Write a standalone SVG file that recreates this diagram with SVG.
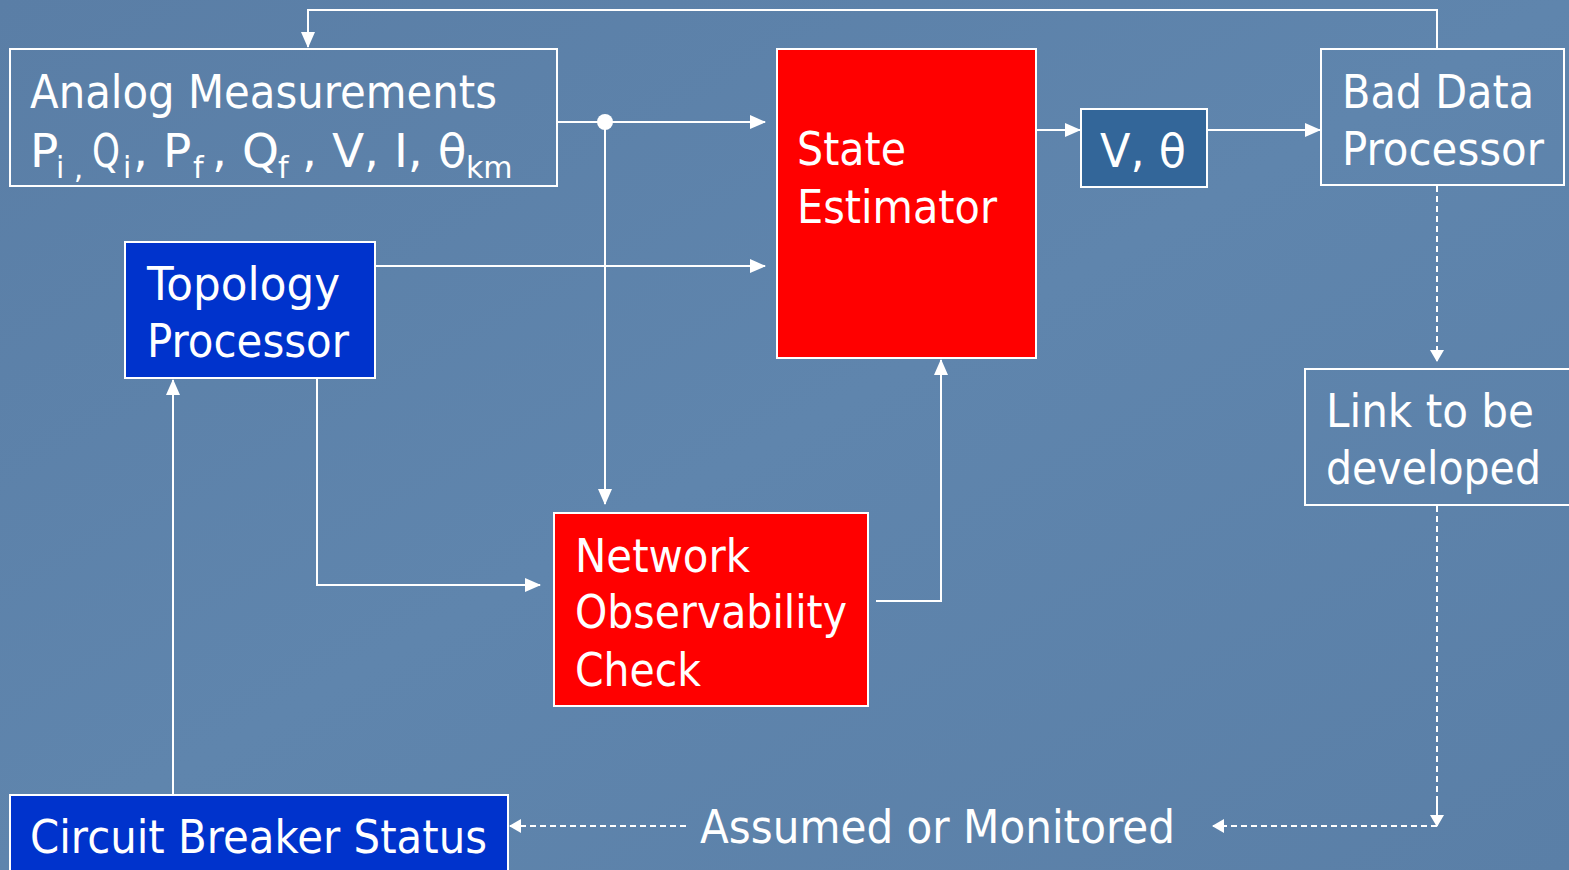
<svg xmlns="http://www.w3.org/2000/svg" width="1569" height="870" viewBox="0 0 1569 870">
<defs>
<linearGradient id="bg" x1="0" y1="0" x2="1" y2="1">
<stop offset="0" stop-color="#5a7ea6"/>
<stop offset="0.5" stop-color="#5f85ad"/>
<stop offset="1" stop-color="#5a7fa7"/>
</linearGradient>
<marker id="ah" markerWidth="16" markerHeight="14" refX="15" refY="7" orient="auto" markerUnits="userSpaceOnUse">
<path d="M0,0 L16,7 L0,14 Z" fill="#fff"/>
</marker>
<marker id="ahs" markerWidth="12" markerHeight="14" refX="11" refY="7" orient="auto" markerUnits="userSpaceOnUse">
<path d="M0,0 L12,7 L0,14 Z" fill="#fff"/>
</marker>
</defs>
<style>
.t{font-family:"DejaVu Sans","Liberation Sans",sans-serif;fill:#fff;font-size:47px}
.box{stroke:#fff;stroke-width:2}
.c{stroke:#fff;stroke-width:2;fill:none}
.d{stroke:#fff;stroke-width:2;fill:none;stroke-dasharray:6,4}
</style>
<rect width="1569" height="870" fill="url(#bg)"/>

<g id="connectors">
<polyline class="c" points="1437,49 1437,10 308,10 308,47" marker-end="url(#ah)"/>
<line class="c" x1="557" y1="122" x2="765" y2="122" marker-end="url(#ah)"/>
<circle cx="605" cy="122" r="8" fill="#fff"/>
<line class="c" x1="605" y1="122" x2="605" y2="504" marker-end="url(#ah)"/>
<line class="c" x1="375" y1="266" x2="765" y2="266" marker-end="url(#ah)"/>
<polyline class="c" points="317,378 317,585 540,585" marker-end="url(#ah)"/>
<polyline class="c" points="876,601 941,601 941,360" marker-end="url(#ah)"/>
<line class="c" x1="1036" y1="130" x2="1080" y2="130" marker-end="url(#ah)"/>
<line class="c" x1="1207" y1="130" x2="1320" y2="130" marker-end="url(#ah)"/>
<line class="c" x1="173" y1="795" x2="173" y2="380" marker-end="url(#ah)"/>
<line class="d" x1="1437" y1="186" x2="1437" y2="361" marker-end="url(#ahs)"/>
<polyline class="d" points="1437,506 1437,826 1213,826" marker-end="url(#ahs)"/>
<line class="d" x1="1437" y1="800" x2="1437" y2="826" marker-end="url(#ahs)"/>
<line class="d" x1="686" y1="826" x2="510" y2="826" marker-end="url(#ahs)"/>
</g>

<g id="analog">
<rect class="box" x="10" y="49" width="547" height="137" fill="none"/>
<text class="t" x="30" y="108" textLength="467" lengthAdjust="spacingAndGlyphs">Analog Measurements</text>
<text class="t" y="167"><tspan x="30">P</tspan><tspan x="56" y="178" font-size="30">i ,</tspan><tspan x="92" y="167" textLength="28" lengthAdjust="spacingAndGlyphs">Q</tspan><tspan x="123" y="178" font-size="30">i</tspan><tspan x="133" y="167">, P</tspan><tspan x="193" y="178" font-size="30">f</tspan><tspan x="212" y="167">, Q</tspan><tspan x="278" y="178" font-size="30">f</tspan><tspan x="302" y="167">, V, I, θ</tspan><tspan x="466" y="178" font-size="30">km</tspan></text>
</g>

<g id="state-estimator">
<rect class="box" x="777" y="49" width="259" height="309" fill="#ff0000"/>
<text class="t" x="797" y="165" textLength="109" lengthAdjust="spacingAndGlyphs">State</text>
<text class="t" x="797" y="223" textLength="200" lengthAdjust="spacingAndGlyphs">Estimator</text>
</g>

<g id="v-theta">
<rect class="box" x="1081" y="109" width="126" height="78" fill="#336699"/>
<text class="t" x="1100" y="167" textLength="86" lengthAdjust="spacingAndGlyphs">V, θ</text>
</g>

<g id="bad-data">
<rect class="box" x="1321" y="49" width="243" height="136" fill="none"/>
<text class="t" x="1342" y="108" textLength="192" lengthAdjust="spacingAndGlyphs">Bad Data</text>
<text class="t" x="1342" y="165" textLength="202" lengthAdjust="spacingAndGlyphs">Processor</text>
</g>

<g id="topology">
<rect class="box" x="125" y="242" width="250" height="136" fill="#0033cc"/>
<text class="t" x="147" y="300" textLength="193" lengthAdjust="spacingAndGlyphs">Topology</text>
<text class="t" x="147" y="357" textLength="202" lengthAdjust="spacingAndGlyphs">Processor</text>
</g>

<g id="network">
<rect class="box" x="554" y="513" width="314" height="193" fill="#ff0000"/>
<text class="t" x="575" y="572" textLength="175" lengthAdjust="spacingAndGlyphs">Network</text>
<text class="t" x="575" y="628" textLength="272" lengthAdjust="spacingAndGlyphs">Observability</text>
<text class="t" x="575" y="686" textLength="126" lengthAdjust="spacingAndGlyphs">Check</text>
</g>

<g id="link">
<rect class="box" x="1305" y="369" width="270" height="136" fill="none" stroke="#e8ffff"/>
<text class="t" x="1326" y="427" textLength="208" lengthAdjust="spacingAndGlyphs">Link to be</text>
<text class="t" x="1326" y="484" textLength="215" lengthAdjust="spacingAndGlyphs">developed</text>
</g>

<g id="circuit-breaker">
<rect class="box" x="10" y="795" width="498" height="80" fill="#0033cc"/>
<text class="t" x="30" y="853" textLength="457" lengthAdjust="spacingAndGlyphs">Circuit Breaker Status</text>
</g>

<g id="label">
<text class="t" x="700" y="843" textLength="475" lengthAdjust="spacingAndGlyphs">Assumed or Monitored</text>
</g>
</svg>
